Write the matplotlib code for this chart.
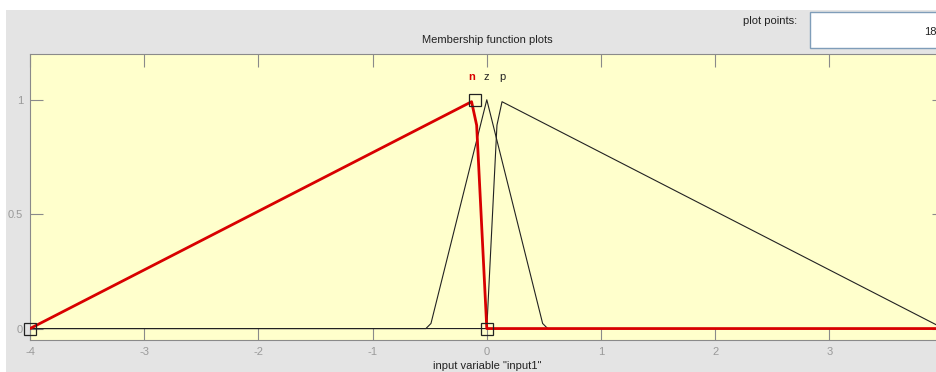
import numpy as np
import matplotlib
matplotlib.use("Agg")
import matplotlib.pyplot as plt
from matplotlib.patches import Rectangle

plt.rcParams['font.family'] = ['Liberation Sans', 'DejaVu Sans']

# membership functions of "input1" (triangular), sampled on 181 points
x_range = (-4, 4)
n_points = 181
mf_names = ["n", "z", "p"]
mf_params = [[-4, -0.1, 0], [-0.5, 0, 0.5], [0, 0.1, 4]]
selected = 0  # "n" is the highlighted one

x_ticks = [-4, -3, -2, -1, 0, 1, 2, 3, 4]
x_ticklabels = ["-4", "-3", "-2", "-1", "0", "1", "2", "3", ""]  # 4 falls past the window edge
y_ticks = [0, 0.5, 1]
y_ticklabels = ["0", "0.5", "1"]


def trimf(x, a, b, c):
    left = np.where(b > a, (x - a) / max(b - a, 1e-12), 1.0)
    right = np.where(c > b, (c - x) / max(c - b, 1e-12), 1.0)
    return np.clip(np.minimum(left, right), 0, 1)


xs = np.linspace(x_range[0], x_range[1], n_points)

W, H = 937, 372
fig = plt.figure(figsize=(W / 100, H / 100), dpi=100)
fig.patch.set_facecolor("white")

# gray panel behind everything
fig.patches.append(Rectangle((6 / W, 0), 1, 1 - 10 / H, transform=fig.transFigure,
                             facecolor="#e4e4e4", edgecolor="none", zorder=-10))

ax = fig.add_axes([30 / W, 32 / H, 913.6 / W, 286 / H])
ax.set_zorder(2)
ax.set_facecolor("#ffffcc")
ax.set_xlim(*x_range)
ax.set_ylim(-0.05, 1.2)

ax.set_xticks(x_ticks)
ax.set_xticklabels(x_ticklabels)
ax.set_yticks(y_ticks)
ax.set_yticklabels(y_ticklabels)
ax.tick_params(direction="in", length=9, width=0.8, color="#8a8a8a",
               labelcolor="#9a9a9a", labelsize=8, top=True, right=True, pad=5)
for s in ax.spines.values():
    s.set_color("#8a8a8a")
    s.set_linewidth(0.8)

curves = [trimf(xs, *p) for p in mf_params]
for i, y in enumerate(curves):
    if i != selected:
        ax.plot(xs, y, color="#222222", lw=0.8, zorder=3)
ax.plot(xs, curves[selected], color="#d80000", lw=2.0, zorder=4)
ax.plot(mf_params[selected], [0, 1, 0], ls="none", marker="s", ms=8,
        mfc="none", mec="#222222", mew=0.9, zorder=5, clip_on=False)

for i, (name, y) in enumerate(zip(mf_names, curves)):
    xm = xs[np.argmax(y)]
    col = "#d80000" if i == selected else "#222222"
    ax.text(xm, 1.10, name, ha="center", va="center", fontsize=8,
            color=col, fontweight="bold" if i == selected else "normal")

ax.set_xlabel('input variable "input1"', fontsize=8, color="#222222", labelpad=3)

fig.text(487 / W, 1 - 40 / H, "Membership function plots", ha="center",
         va="center", fontsize=8, color="#222222")
fig.text(797 / W, 1 - 21 / H, "plot points:", ha="right", va="center",
         fontsize=8, color="#222222")
fig.patches.append(Rectangle((810 / W, 1 - 48 / H), 140 / W, 36 / H,
                             transform=fig.transFigure, facecolor="white",
                             edgecolor="#7f9db9", lw=1, zorder=1))
fig.text(943 / W, 1 - 32 / H, str(n_points), ha="right", va="center",
         fontsize=8, color="#222222")

fig.savefig("out.png", dpi=100)
